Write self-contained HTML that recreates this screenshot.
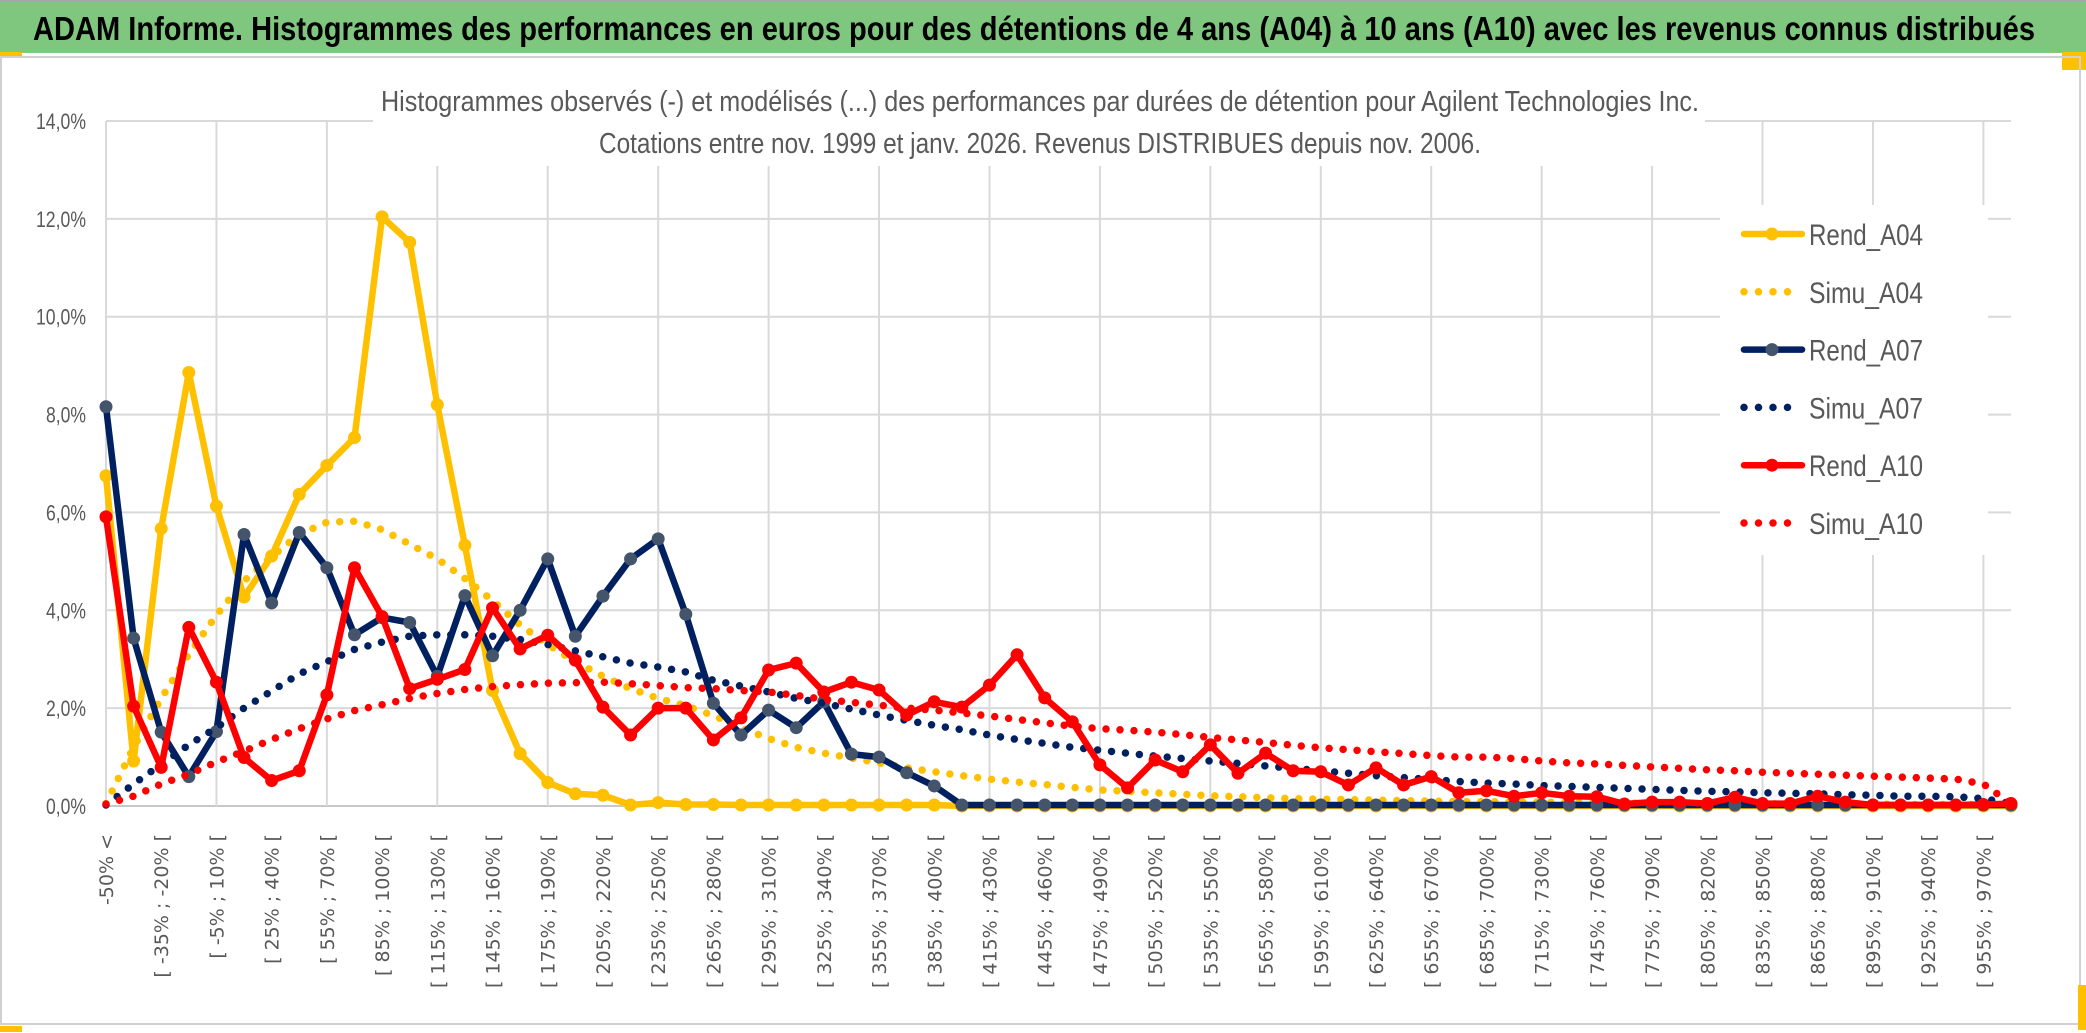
<!DOCTYPE html>
<html><head><meta charset="utf-8">
<style>
html,body{margin:0;padding:0;background:#fff;}
svg{display:block;}
</style></head>
<body>
<svg id="chart" width="2086" height="1033" viewBox="0 0 2086 1033" xmlns="http://www.w3.org/2000/svg">
  <rect x="0" y="0" width="2086" height="1033" fill="#fff"/>
  <rect x="0" y="2" width="2086" height="51" fill="#7fc77f"/>
  <line x1="0" y1="1" x2="2086" y2="1" stroke="#a6a6a6" stroke-width="2"/>
  <text x="33" y="40" font-family="'Liberation Sans', sans-serif" font-weight="bold" font-size="33" fill="#000" textLength="2002" lengthAdjust="spacingAndGlyphs">ADAM Informe. Histogrammes des performances en euros pour des détentions de 4 ans (A04) à 10 ans (A10) avec les revenus connus distribués</text>
  <rect x="0" y="52" width="22" height="4" fill="#ffc000"/>
  <rect x="2062" y="52" width="24" height="18" fill="#ffc000"/>
  <rect x="1" y="57" width="2079" height="967" fill="none" stroke="#d0d0d0" stroke-width="2"/>
  <rect x="2078" y="985" width="8" height="45" fill="#ffc000"/>
  <rect x="0" y="1026" width="22" height="6" fill="#ffc000"/>
  <g id="grid"></g>
  <rect x="373" y="80" width="1332" height="86" fill="#fff"/>
  <rect x="1720" y="205" width="268" height="350" fill="#fff"/>
  <text x="1040" y="111" text-anchor="middle" font-family="'Liberation Sans', sans-serif" font-size="29" fill="#595959" textLength="1318" lengthAdjust="spacingAndGlyphs">Histogrammes observés (-) et modélisés (...) des performances par durées de détention pour Agilent Technologies Inc.</text>
  <text x="1040" y="153" text-anchor="middle" font-family="'Liberation Sans', sans-serif" font-size="29" fill="#595959" textLength="882" lengthAdjust="spacingAndGlyphs">Cotations entre nov. 1999 et janv. 2026. Revenus DISTRIBUES depuis nov. 2006.</text>
  <g id="yaxis"></g>
  <g id="xaxis"></g>
  <g id="series"></g>
  <g id="legend"></g>
</svg>
<script>
const rendA04 = [6.75,0.92,5.67,8.86,6.13,4.27,5.11,6.37,6.96,7.53,12.04,11.52,8.2,5.33,2.36,1.07,0.48,0.25,0.22,0.02,0.07,0.03,0.03,0.02,0.02,0.02,0.02,0.02,0.02,0.02,0.02,
0,0,0,0,0,0,0,0,0,0,0,0,0,0,0,0,0,0,0,0,0,0,0,0,0,0,0,0,0,0,0,0,0,0,0,0,0,0,0];
const simuA04 = [0.05,1.2,2.2,3.1,3.9,4.6,5.1,5.55,5.8,5.82,5.65,5.35,5.05,4.65,4.2,3.7,3.3,2.95,2.65,2.4,2.2,2.05,1.85,1.6,1.38,1.2,1.08,0.98,0.88,0.78,0.7,0.62,0.55,0.49,0.44,0.38,0.33,0.3,0.27,0.24,0.21,0.19,0.17,0.15,0.14,0.13,0.12,0.11,0.1,0.09,0.09,0.08,0.08,0.07,0.07,0.06,0.06,0.06,0.05,0.05,0.05,0.04,0.04,0.04,0.04,0.03,0.03,0.03,0.03,0.02];
const rendA07 = [8.16,3.43,1.51,0.6,1.52,5.55,4.15,5.59,4.87,3.5,3.85,3.75,2.65,4.3,3.07,4.0,5.05,3.47,4.29,5.05,5.46,3.92,2.1,1.45,1.96,1.6,2.13,1.06,1.0,0.68,0.41,
0.02,0.02,0.02,0.02,0.02,0.02,0.02,0.02,0.02,0.02,0.02,0.02,0.02,0.02,0.02,0.02,0.02,0.02,0.02,0.02,0.02,0.02,0.02,0.02,0.02,0.02,0.02,0.02,0.02,0.02,0.02,0.02,0.02,0.02,0.02,0.02,0.02,0.02,0.02];
const simuA07 = [0.02,0.45,0.85,1.25,1.6,2.0,2.35,2.7,2.95,3.2,3.35,3.47,3.5,3.5,3.47,3.4,3.3,3.17,3.05,2.92,2.84,2.74,2.57,2.45,2.33,2.2,2.1,1.98,1.86,1.75,1.65,1.56,1.45,1.36,1.28,1.2,1.14,1.08,1.02,0.97,0.92,0.87,0.82,0.77,0.72,0.67,0.62,0.58,0.54,0.5,0.47,0.45,0.42,0.4,0.38,0.36,0.34,0.32,0.3,0.29,0.27,0.26,0.25,0.23,0.22,0.2,0.2,0.19,0.15,0.05];
const rendA10 = [5.91,2.04,0.79,3.65,2.53,0.99,0.52,0.72,2.27,4.87,3.87,2.4,2.59,2.79,4.05,3.21,3.49,2.98,2.02,1.45,2.0,2.0,1.35,1.8,2.78,2.92,2.33,2.53,2.37,1.86,2.13,2.02,2.47,3.09,2.21,1.72,0.84,0.37,0.94,0.7,1.25,0.67,1.08,0.72,0.7,0.43,0.78,0.43,0.6,0.27,0.31,
0.2,0.27,0.2,0.19,0.04,0.08,0.08,0.05,0.18,0.05,0.05,0.2,0.08,0.02,0.02,0.02,0.02,0.03,0.05];
const simuA10 = [0.04,0.2,0.45,0.65,0.9,1.12,1.36,1.58,1.78,1.95,2.07,2.2,2.3,2.38,2.44,2.48,2.51,2.52,2.53,2.5,2.46,2.42,2.4,2.36,2.33,2.26,2.18,2.12,2.06,2.0,1.96,1.9,1.84,1.77,1.7,1.63,1.58,1.55,1.51,1.46,1.4,1.35,1.3,1.24,1.19,1.15,1.11,1.07,1.03,1.0,1.0,0.97,0.92,0.88,0.86,0.83,0.8,0.77,0.74,0.72,0.69,0.67,0.65,0.63,0.61,0.59,0.57,0.55,0.45,0.05];
const yTicks = [0,2,4,6,8,10,12,14];
const yTickLabels = ["0,0%","2,0%","4,0%","6,0%","8,0%","10,0%","12,0%","14,0%"];
const binStart = -50, binWidth = 15, nCats = 70;
const categories = [];
categories.push("-50% <");
for (let k = 1; k < nCats; k++) {
  const lo = binStart + binWidth*(k-1);
  categories.push("[ " + lo + "% ; " + (lo+binWidth) + "% [");
}

const NS = "http://www.w3.org/2000/svg";
const X0 = 106, X1 = 2011, Y0 = 806, YTOP = 121, YMAX = 14;
function xs(i){ return X0 + i*(X1-X0)/(nCats-1); }
function ys(v){ return Y0 - v*(Y0-YTOP)/YMAX; }
function mk(tag, attrs, parent){
  const e = document.createElementNS(NS, tag);
  for (const k in attrs) e.setAttribute(k, attrs[k]);
  parent.appendChild(e); return e;
}
const grid = document.getElementById('grid');
yTicks.forEach(function(t){
  const l = mk('line', {x1:X0, x2:X1, y1:ys(t), y2:ys(t), stroke: t===0 ? '#c8c8c8' : '#d9d9d9', 'stroke-width':2}, grid);
  
  
});
for (let i = 0; i < nCats; i += 4) {
  const l = mk('line', {x1:xs(i), x2:xs(i), y1:ys(YMAX), y2:Y0, stroke:'#d9d9d9', 'stroke-width':2}, grid);
  
  
}
const yaxis = document.getElementById('yaxis');
yTicks.forEach(function(t, j){
  const tx = mk('text', {x:86, y:ys(t)+8, 'text-anchor':'end', 'font-family':"'Liberation Sans', sans-serif", 'font-size':22, fill:'#595959', textLength: (yTickLabels[j].length*10), lengthAdjust:'spacingAndGlyphs'}, yaxis);
  tx.textContent = yTickLabels[j];
  
  
});
const xaxis = document.getElementById('xaxis');
categories.forEach(function(c, i){
  if (i % 2 !== 0) return;
  const x = xs(i) + 7, y = 834;
  const tx = mk('text', {x:x, y:y, 'text-anchor':'end', transform:'rotate(-90 '+x+' '+y+')', 'font-family':"'DejaVu Sans', sans-serif", 'font-size':19, fill:'#595959'}, xaxis);
  tx.textContent = c;
  
  
});
const series = document.getElementById('series');
function drawSeries(vals, color, dotted, markerColor, name){
  const g = mk('g', {}, series);
  
  
  const pts = vals.map(function(v,i){ return xs(i).toFixed(1)+','+ys(v).toFixed(1); }).join(' ');
  const attrs = {points:pts, fill:'none', stroke:color, 'stroke-linejoin':'round', 'stroke-linecap':'round'};
  if (dotted) { attrs['stroke-width'] = 7.5; attrs['stroke-dasharray'] = '0 14'; }
  else { attrs['stroke-width'] = 6.5; }
  const pl = mk('polyline', attrs, g);
  
  
  if (!dotted) {
    vals.forEach(function(v,i){
      const c = mk('circle', {cx:xs(i), cy:ys(v), r:6.5, fill:markerColor}, g);
      
      
    });
  }
}
drawSeries(rendA04, '#ffc000', false, '#ffc000', 'rend-a04');
drawSeries(simuA04, '#ffc000', true, null, 'simu-a04');
drawSeries(rendA07, '#002060', false, '#44546a', 'rend-a07');
drawSeries(simuA07, '#002060', true, null, 'simu-a07');
drawSeries(rendA10, '#ff0000', false, '#ff0000', 'rend-a10');
drawSeries(simuA10, '#ff0000', true, null, 'simu-a10');

const legendNames = ["Rend_A04","Simu_A04","Rend_A07","Simu_A07","Rend_A10","Simu_A10"];
const legendColors = ['#ffc000','#ffc000','#002060','#002060','#ff0000','#ff0000'];
const legendMarkers = ['#ffc000',null,'#44546a',null,'#ff0000',null];
const legend = document.getElementById('legend');
legendNames.forEach(function(n, j){
  const y = 234 + j*57.8;
  const g = mk('g', {}, legend);
  
  
  if (legendMarkers[j]) {
    mk('line', {x1:1744, x2:1802, y1:y, y2:y, stroke:legendColors[j], 'stroke-width':6.5, 'stroke-linecap':'round'}, g);
    mk('circle', {cx:1772, cy:y, r:6.5, fill:legendMarkers[j]}, g);
  } else {
    mk('line', {x1:1744, x2:1800, y1:y, y2:y, stroke:legendColors[j], 'stroke-width':7.5, 'stroke-linecap':'round', 'stroke-dasharray':'0 14.5'}, g);
  }
  const t = mk('text', {x:1809, y:y+11, 'font-family':"'Liberation Sans', sans-serif", 'font-size':30, fill:'#595959', textLength:114, lengthAdjust:'spacingAndGlyphs'}, g);
  t.textContent = n;
});
</script>
</body></html>
